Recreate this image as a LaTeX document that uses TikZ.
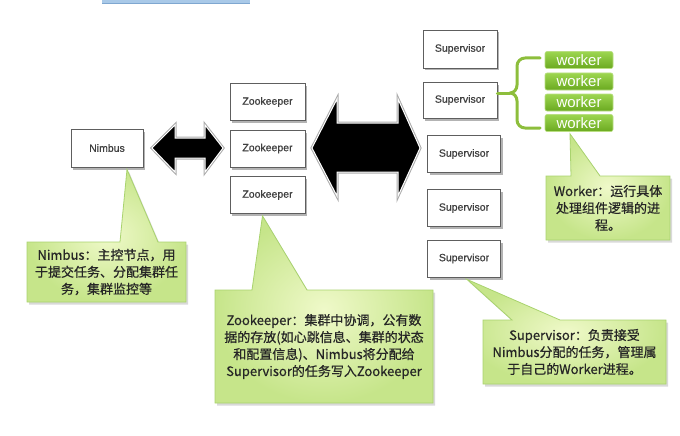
\documentclass[tikz,border=0pt]{standalone}
\usepackage{fontspec}
\newfontfamily\cjk[FakeBold=0.6]{Noto Sans CJK SC}
\newfontfamily\lab[FakeBold=0.8]{Liberation Sans}
\newfontfamily\wlab{Liberation Sans}
\usetikzlibrary{shadows,calc}
\definecolor{boxline}{HTML}{5E5E5E}
\definecolor{calloutline}{HTML}{A9D36E}
\definecolor{calloutin}{HTML}{EFF9C9}
\definecolor{calloutout}{HTML}{C6E58A}
\definecolor{wtop}{HTML}{9DD650}
\definecolor{wbot}{HTML}{6AA920}
\definecolor{wline}{HTML}{B9DE82}
\definecolor{bracecol}{HTML}{8DBE3C}
\definecolor{banner}{HTML}{A9C9E8}
\definecolor{bannerline}{HTML}{7FA7D0}
\tikzset{
  compbox/.style={draw=boxline, line width=0.8pt, fill=white, inner sep=0pt,
    drop shadow={opacity=0.6, shadow xshift=2pt, shadow yshift=-2.5pt},
    font=\lab\fontsize{10.5}{12}\selectfont, text=black!75},
  workerbox/.style={draw=wline, line width=0.6pt, rounded corners=2pt, top color=wtop, bottom color=wbot,
    minimum width=68pt, minimum height=17pt, inner sep=0pt, text=white,
    font=\wlab\fontsize{15}{15}\selectfont},
  callout/.style={draw=calloutline, line width=0.8pt, inner color=calloutin, outer color=calloutout,
    drop shadow={opacity=0.3, shadow xshift=2pt, shadow yshift=-2.5pt}},
  callouttext/.style={align=center, inner sep=0pt, font=\cjk\fontsize{13}{17}\selectfont, text=black!85},
  blockarrowout/.style={draw=gray!65, line width=3pt, line join=miter},
  blockarrowin/.style={fill=black, draw=white, line width=1pt, line join=miter},
}
\begin{document}
\begin{tikzpicture}[x=1pt,y=-1pt]
\useasboundingbox (0,0) rectangle (680,436);
% banner remnant at the top
\fill[banner] (102,-6) rectangle (250,3);
\draw[bannerline, line width=0.6pt] (102,3) -- (250,3);

% component boxes
\node[compbox, minimum width=72pt, minimum height=38pt] (nimbus) at (107,148) {Nimbus};
\node[compbox, minimum width=75pt, minimum height=37pt] (zk1) at (267.5,102) {Zookeeper};
\node[compbox, minimum width=75pt, minimum height=37pt] (zk2) at (267.5,148.5) {Zookeeper};
\node[compbox, minimum width=75pt, minimum height=37pt] (zk3) at (267.5,195) {Zookeeper};
\node[compbox, minimum width=74pt, minimum height=38pt] (sup1) at (460,49) {Supervisor};
\node[compbox, minimum width=74pt, minimum height=36pt] (sup2) at (460,100) {Supervisor};
\node[compbox, minimum width=73pt, minimum height=37pt] (sup3) at (464,154) {Supervisor};
\node[compbox, minimum width=73pt, minimum height=37pt] (sup4) at (464,208) {Supervisor};
\node[compbox, minimum width=73pt, minimum height=37pt] (sup5) at (464,258.5) {Supervisor};

% workers
\node[workerbox] (w1) at (579,60) {worker};
\node[workerbox] (w2) at (579,81.5) {worker};
\node[workerbox] (w3) at (579,102.5) {worker};
\node[workerbox] (w4) at (579,123) {worker};

% brace from supervisor to workers
\coordinate (bp) at (510,93);
\draw[bracecol, line width=3pt, line cap=round] (sup2.east |- bp) -- (bp);
\draw[bracecol, line width=3pt, line cap=round, line join=round]
  (540,58) -- (525,58) to[out=180,in=90] (517,66) -- (517,85) to[out=-90,in=0] (bp)
  to[out=0,in=90] (517,101) -- (517,120) to[out=-90,in=180] (525,128) -- (540,128);

% double block arrows
\def\smallarrow{(152,148) -- (175,125) -- (175,138) -- (205,138) -- (205,125) -- (223,148)
  -- (205,172) -- (205,158) -- (175,158) -- (175,172) -- cycle}
\def\bigarrow{(312,148) -- (337,99) -- (337,123) -- (398,123) -- (398,99) -- (420,148)
  -- (398,196) -- (398,172) -- (337,172) -- (337,196) -- cycle}
\path[blockarrowout] \smallarrow;
\path[blockarrowin] \smallarrow;
\path[blockarrowout] \bigarrow;
\path[blockarrowin] \bigarrow;

% callouts
\path[callout] (27,242) -- (120,242) -- ($(nimbus.south)+(20,2)$) -- (158,242) -- (186,242)
  -- (186,302) -- (27,302) -- cycle;
\node[callouttext] (cn) at (106.5,272) {Nimbus：主控节点，用\\于提交任务、分配集群任\\务，集群监控等};

\path[callout] (215,290) -- (252,290) -- ($(zk3.south)+(-5,2)$) -- (307,290) -- (433,290)
  -- (433,403) -- (215,403) -- cycle;
\node[callouttext] (cz) at (324,346.5) {Zookeeper：集群中协调，公有数\\据的存放(如心跳信息、集群的状态\\和配置信息)、Nimbus将分配给\\Supervisor的任务写入Zookeeper};

\path[callout] (546,176) -- (571,176) -- ($(w4.south)+(-9,2)$) -- (600,176) -- (670,176)
  -- (670,240) -- (546,240) -- cycle;
\node[callouttext] (cw) at (608,208) {Worker：运行具体\\处理组件逻辑的进\\程。};

\path[callout] (483,320) -- (512,320) -- ($(sup5.south)+(3,2)$) -- (560,320) -- (666,320)
  -- (666,384) -- (483,384) -- cycle;
\node[callouttext] (cs) at (574.5,352) {Supervisor：负责接受\\Nimbus分配的任务，管理属\\于自己的Worker进程。};
\end{tikzpicture}
\end{document}
